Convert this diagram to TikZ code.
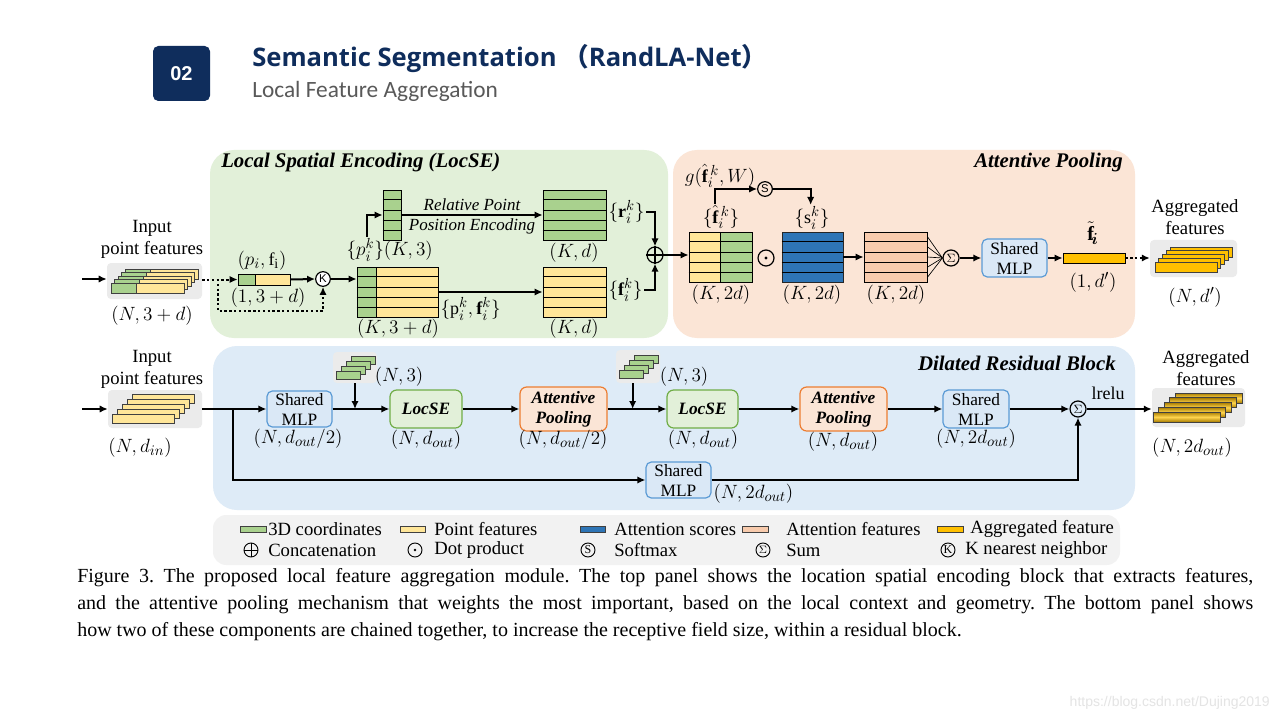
\documentclass[tikz,border=0pt]{standalone}
\usepackage{amsmath}
\usepackage{fontspec}
\setmainfont{Liberation Serif}
\newfontfamily\titlefont{Open Sans}
\newfontfamily\subfont{Carlito}
\newfontfamily\cjk{Noto Sans CJK SC}
\newfontfamily\wmfont{Liberation Sans}
\DeclareMathSizes{13.5}{13.5}{10.5}{8}
\DeclareMathSizes{15}{15}{11.5}{9}
\usetikzlibrary{arrows.meta,calc}
\definecolor{navy}{HTML}{0F2D5C}
\definecolor{subgray}{HTML}{595959}
\definecolor{greenbg}{HTML}{E2F0D9}
\definecolor{peachbg}{HTML}{FBE5D6}
\definecolor{bluebg}{HTML}{DEEBF7}
\definecolor{legbg}{HTML}{F2F2F2}
\definecolor{stackbg}{HTML}{EBEBEB}
\definecolor{cgreen}{HTML}{A9D18E}
\definecolor{cyellow}{HTML}{FFE699}
\definecolor{cblue}{HTML}{2E75B6}
\definecolor{cpeach}{HTML}{F8CBAD}
\definecolor{cgold}{HTML}{FFC000}
\definecolor{golddark}{HTML}{A87C00}
\definecolor{goldlight}{HTML}{FFD54F}
\definecolor{mlpB}{HTML}{5B9BD5}
\definecolor{mlpF}{HTML}{DAE8F6}
\definecolor{locB}{HTML}{70AD47}
\definecolor{locF}{HTML}{E2F0D9}
\definecolor{apB}{HTML}{ED7D31}
\definecolor{apF}{HTML}{FBE5D6}
\definecolor{wm}{HTML}{E4E4E4}
\newcommand\boxat[7]{\node[#2, inner sep=0pt, minimum width={(#5-#3)*0.75pt}, minimum height={(#6-#4)*0.75pt}] (#1) at ({(#3+#5)/2},{(#4+#6)/2}) {#7};}
\newcommand\mrows[2]{\foreach \k in {1,...,#2} {\draw[rowline] ($(#1.north west)!{\k/(#2+1)}!(#1.south west)$) -- ($(#1.north east)!{\k/(#2+1)}!(#1.south east)$);}}
\begin{document}
\begin{tikzpicture}[x=0.75pt,y=-0.75pt,
  arr/.style={line width=1.5pt,-{Latex[length=6pt,width=5.5pt]}},
  dotarr/.style={line width=1.5pt,dash pattern=on 1.8pt off 1.8pt,-{Latex[length=6pt,width=5.5pt]}},
  lab/.style={font=\fontsize{13.5}{15}\selectfont,inner sep=1pt},
  mat/.style={draw=black,line width=0.6pt},
  rowline/.style={line width=0.6pt},
  bar/.style={draw=black!75,line width=0.5pt},
  op/.style={circle,draw,line width=0.9pt,minimum size=11pt,inner sep=0pt},
  panel/.style={rounded corners=18pt,draw=none},
  mlp/.style={draw=mlpB,fill=mlpF,rounded corners=4pt,line width=0.9pt,align=center,font=\fontsize{13}{15}\selectfont},
  loc/.style={draw=locB,fill=locF,rounded corners=5pt,line width=0.9pt,font=\fontsize{13}{14}\selectfont\bfseries\itshape},
  ap/.style={draw=apB,fill=apF,rounded corners=5pt,line width=0.9pt,align=center,font=\fontsize{13}{15}\selectfont\bfseries\itshape},
  ptitle/.style={font=\fontsize{15.6}{17}\selectfont\bfseries\itshape,inner sep=0pt},
  two/.style={align=center,font=\fontsize{14}{16.5}\selectfont,inner sep=0pt},
  leg/.style={font=\fontsize{14}{15}\selectfont,anchor=west,inner sep=0pt},
  captxt/.style={font=\fontsize{15}{17}\selectfont,anchor=west,inner sep=0pt},
  sbg/.style={fill=stackbg,rounded corners=3pt,draw=none}]
\useasboundingbox (0,0) rectangle (1280,720);
\fill[white] (0,0) rectangle (1280,720);

% ---------- header ----------
\boxat{num}{fill=navy,rounded corners=4pt,text=white,font=\wmfont\bfseries\fontsize{15}{15}\selectfont}{153}{46}{210}{101}{02}
\node[anchor=west,inner sep=0pt,text=navy,font=\titlefont\bfseries\fontsize{19.2}{21}\selectfont] (title) at (252,59) {Semantic Segmentation {\cjk （}RandLA-Net{\cjk ）}};
\node[anchor=west,inner sep=0pt,text=subgray,font=\subfont\fontsize{17.5}{19}\selectfont] (subtitle) at (252,91) {Local Feature Aggregation};

% ---------- panels ----------
\boxat{pLoc}{panel,fill=greenbg}{210}{150}{668}{338}{}
\boxat{pAP}{panel,fill=peachbg}{673}{150}{1135}{338}{}
\boxat{pDR}{panel,fill=bluebg}{213}{346}{1135}{510}{}
\boxat{pLeg}{rounded corners=10pt,fill=legbg}{213}{515}{1120}{565}{}
\node[ptitle,anchor=west] (tLoc) at (221,162) {Local Spatial Encoding (LocSE)};
\node[ptitle,anchor=east] (tAP) at (1123,162) {Attentive Pooling};
\node[ptitle,anchor=east] (tDR) at (1116,363) {Dilated Residual Block};

% ---------- top: input ----------
\coordinate (inA) at (82,279);
\node[two] (tIn) at (152,239) {Input\\point features};
\boxat{inT}{sbg}{107}{263}{202}{299}{}
\foreach \i in {4,...,0} {
  \fill[cyellow] ({111+3.5*\i},{283-3.5*\i}) rectangle ({184+3.5*\i},{293-3.5*\i});
  \fill[cgreen] ({111+3.5*\i},{283-3.5*\i}) rectangle ({136+3.5*\i},{293-3.5*\i});
  \draw[bar] ({111+3.5*\i},{283-3.5*\i}) rectangle ({184+3.5*\i},{293-3.5*\i});
  \draw[bar] ({136+3.5*\i},{283-3.5*\i}) -- ({136+3.5*\i},{293-3.5*\i});
}
\node[lab] (lIn) at (152,316) {$(N,3+d)$};
\draw[arr] (inA) -- (inA -| inT.west);

\fill[cgreen] (238,274) rectangle (255,285);
\fill[cyellow] (255,274) rectangle (290,285);
\boxat{pf}{mat}{238}{274}{290}{285}{}
\draw[rowline] (255,274) -- (255,285);
\node[lab] (lpf) at (262,261) {$(p_i,\mathrm{f}_\mathrm{i})$};
\node[lab] (lpf2) at (268,298) {$(1,3+d)$};
\node[op,fill=white] (K) at (323,279) {\wmfont\fontsize{8.5}{8.5}\selectfont K};
\coordinate (dsplit) at (218,279);
\draw[dotarr] (inT.east |- pf.west) -- (pf.west);
\draw[dotarr] (dsplit) -- (218,311) -| (K.south);
\draw[arr] (pf.east) -- (K.west);

% big matrix
\fill[cgreen] (357,267) rectangle (376,317);
\fill[cyellow] (376,267) rectangle (438,317);
\boxat{M1}{mat}{357}{267}{438}{317}{}
\mrows{M1}{4}
\draw[rowline] (376,267) -- (376,317);
\draw[arr] (K.east) -- (K.east -| M1.west);
\node[lab] (lM1) at (398,329) {$(K,3+d)$};
\node[lab,anchor=west] (lM1b) at (439,309) {$\{\mathrm{p}_i^k,\mathbf{f}_i^k\}$};

% column
\boxat{C1}{mat,fill=cgreen}{383}{190}{401}{240}{}
\mrows{C1}{4}
\node[lab,anchor=west] (lC1) at (345,250) {$\{p_i^k\}(K,3)$};
\draw[arr] ([xshift=16.5pt]lC1.north west) |- (C1.west);

% R and F
\boxat{R}{mat,fill=cgreen}{543}{190}{606}{240}{}
\mrows{R}{4}
\boxat{F}{mat,fill=cyellow}{543}{267}{606}{317}{}
\mrows{F}{4}
\draw[arr] (C1.east) -- (C1.east -| R.west);
\node[align=center,inner sep=0pt,font=\fontsize{12.75}{15}\selectfont\itshape] (lRel) at (472,216) {Relative Point\\Position Encoding};
\draw[arr] (F.west -| M1.east) -- (F.west);
\node[lab] (lR) at (574,253) {$(K,d)$};
\node[lab] (lF) at (574,329) {$(K,d)$};
\node[lab,anchor=west] (rlab) at (607,212) {$\{\mathbf{r}_i^k\}$};
\node[lab,anchor=west] (flab) at (607,290) {$\{\mathbf{f}_i^k\}$};
\node[op,minimum size=12pt] (cat) at (655,255) {};
\draw[line width=0.9pt] (cat.north) -- (cat.south) (cat.west) -- (cat.east);
\draw[arr] (rlab.east) -| (cat.north);
\draw[arr] (flab.east) -| (cat.south);

% ---------- attentive pooling ----------
\fill[cyellow] (689,232) rectangle (720,282);
\fill[cgreen] (720,232) rectangle (752,282);
\boxat{Q1}{mat}{689}{232}{752}{282}{}
\mrows{Q1}{4}
\draw[rowline] (720,232) -- (720,282);
\draw[arr] (cat.east) -- (cat.east -| Q1.west);
\node[lab] (fh) at (721,217) {$\{\hat{\mathbf{f}}_i^{\,k}\}$};
\node[lab] (lg) at (720,176) {$g(\hat{\mathbf{f}}_i^{\,k},W)$};
\node[op] (S) at (765,189) {\wmfont\fontsize{8.5}{8.5}\selectfont S};
\node[lab] (sl) at (812,218) {$\{\mathrm{s}_i^k\}$};
\draw[arr] ([xshift=-4.5pt]fh.north) |- (S.west);
\draw[arr] (S.east) -| ([xshift=-1pt]sl.north);
\node[op,minimum size=12pt] (dot) at (766,258) {};
\fill (dot.center) circle[radius=1.6];
\boxat{B}{mat,draw=black!85,fill=cblue}{782}{232}{843}{282}{}
\mrows{B}{4}
\boxat{P}{mat,fill=cpeach}{864}{232}{927}{282}{}
\mrows{P}{4}
\draw[arr] (B.east) -- (P.west);
\node[op,minimum size=12pt] (sum) at (951,258) {\fontsize{9}{9}\selectfont$\Sigma$};
\foreach \k in {0.5,1.5,2.5,3.5,4.5} {\draw[line width=0.5pt] ($(P.north east)!{\k/5}!(P.south east)$) -- (sum.west);}
\node[lab] (lQ) at (721,295) {$(K,2d)$};
\node[lab] (lB) at (812,295) {$(K,2d)$};
\node[lab] (lP) at (896,295) {$(K,2d)$};
\boxat{mlp1}{mlp}{982}{239}{1047}{277}{Shared\\MLP}
\draw[arr] (sum.east) -- (mlp1.west);
\boxat{gb}{mat,fill=cgold}{1063}{253}{1125}{263}{}
\draw[arr] (mlp1.east) -- (gb.west);
\node[lab,font=\fontsize{15}{16}\selectfont] (lft) at (1093,233) {$\tilde{\mathbf{f}}_{\!\boldsymbol{i}}$};
\node[lab] (lgb) at (1093,282) {$(1,d')$};
\boxat{aggT}{sbg}{1150}{240}{1237}{277}{}
\foreach \i in {4,...,0} {
  \filldraw[fill=cgold,bar] ({1155+3.75*\i},{262-3.75*\i}) rectangle ({1217+3.75*\i},{272-3.75*\i});
}
\draw[dotarr] (gb.east) -- (gb.east -| aggT.west);
\node[two] (tAggT) at (1195,217) {Aggregated\\features};
\node[lab] (lAggT) at (1195,297) {$(N,d')$};

% ---------- bottom: dilated residual block ----------
\coordinate (inB0) at (82,409);
\node[two] (tInB) at (152,369) {Input\\point features};
\boxat{inB}{sbg}{108}{390}{202}{428}{}
\foreach \i in {4,...,0} {
  \filldraw[fill=cyellow,bar] ({112+5*\i},{414-5*\i}) rectangle ({174+5*\i},{423-5*\i});
}
\node[lab] (lInB) at (140,448) {$(N,d_{in})$};
\draw[arr] (inB0) -- (inB0 -| inB.west);

\boxat{mlpA}{mlp}{267}{391}{332}{427}{Shared\\MLP}
\node[lab] (lmlpA) at (298,439) {$(N,d_{out}/2)$};
\draw[arr] (inB.east) -- (mlpA.west);
\coordinate (split) at (233,409);

\boxat{gs1}{sbg}{333}{352}{377}{383}{}
\foreach \i in {3,...,0} {
  \filldraw[fill=cgreen,bar] ({336+5*\i},{371-5*\i}) rectangle ({360+5*\i},{379-5*\i});
}
\node[lab] (lgs1) at (399,377) {$(N,3)$};
\boxat{loc1}{loc}{390}{390}{462}{428}{LocSE}
\node[lab] (lloc1) at (426,440) {$(N,d_{out})$};
\draw[arr] (mlpA.east) -- (loc1.west);
\draw[arr] (gs1.south) -- (gs1.south |- mlpA.east);

\boxat{ap1}{ap}{520}{387}{607}{431}{Attentive\\Pooling}
\node[lab] (lap1) at (563,440) {$(N,d_{out}/2)$};
\draw[arr] (loc1.east) -- (ap1.west);

\boxat{gs2}{sbg}{616}{350}{660}{383}{}
\foreach \i in {3,...,0} {
  \filldraw[fill=cgreen,bar] ({619+5*\i},{370-5*\i}) rectangle ({643+5*\i},{378-5*\i});
}
\node[lab] (lgs2) at (684,377) {$(N,3)$};
\boxat{loc2}{loc}{667}{390}{738}{428}{LocSE}
\node[lab] (lloc2) at (703,440) {$(N,d_{out})$};
\draw[arr] (ap1.east) -- (loc2.west);
\draw[arr] ([xshift=-4pt]gs2.south) -- ([xshift=-4pt]gs2.south |- ap1.east);

\boxat{ap2}{ap}{800}{387}{887}{431}{Attentive\\Pooling}
\node[lab] (lap2) at (843,442) {$(N,d_{out})$};
\draw[arr] (loc2.east) -- (ap2.west);

\boxat{mlpC}{mlp}{943}{390}{1009}{428}{Shared\\MLP}
\node[lab] (lmlpC) at (976,439) {$(N,2d_{out})$};
\draw[arr] (ap2.east) -- (mlpC.west);

\node[op,minimum size=12pt] (sum2) at (1078,409) {\fontsize{9}{9}\selectfont$\Sigma$};
\draw[arr] (mlpC.east) -- (sum2.west);
\node[lab] (lrelu) at (1108,393) {lrelu};

\boxat{mlpB}{mlp}{646}{462}{711}{498}{Shared\\MLP}
\node[lab,anchor=west] (lmlpB) at (712,494) {$(N,2d_{out})$};
\draw[arr] (split) |- (mlpB.west);
\draw[arr] (mlpB.east) -| (sum2.south);

\boxat{aggB}{sbg}{1152}{388}{1245}{427}{}
\foreach \i in {4,...,0} {
  \shade[top color=golddark,bottom color=golddark,middle color=goldlight] ({1153+5.5*\i},{412-4.75*\i}) rectangle ({1220+5.5*\i},{422-4.75*\i});
  \draw[bar] ({1153+5.5*\i},{412-4.75*\i}) rectangle ({1220+5.5*\i},{422-4.75*\i});
}
\draw[arr] (sum2.east) -- (sum2.east -| aggB.west);
\node[two] (tAggB) at (1206,368) {Aggregated\\features};
\node[lab] (lAggB) at (1192,448) {$(N,2d_{out})$};

% ---------- legend ----------
\filldraw[fill=cgreen,bar] (240,526) rectangle (266,532);
\node[leg] (g1) at (268,529) {3D coordinates};
\filldraw[fill=cyellow,bar] (400,526) rectangle (425,532);
\node[leg] (g2) at (434,529) {Point features};
\filldraw[fill=cblue,bar] (580,526) rectangle (605,532);
\node[leg] (g3) at (614,529) {Attention scores};
\filldraw[fill=cpeach,bar] (742,526) rectangle (768,532);
\node[leg] (g4) at (786,529) {Attention features};
\filldraw[fill=cgold,bar] (937,526) rectangle (963,532);
\node[leg] (g5) at (970,529) {Aggregated feature};

\node[op,minimum size=10.5pt,line width=0.7pt] (oCat) at (251,550) {};
\draw[line width=0.7pt] (oCat.north) -- (oCat.south) (oCat.west) -- (oCat.east);
\node[leg] (h1) at (268,550) {Concatenation};
\node[op,minimum size=10.5pt,line width=0.7pt] (oDot) at (415,550) {};
\fill (oDot.center) circle[radius=1.4];
\node[leg] (h2) at (434,550) {Dot product};
\node[op,minimum size=10.5pt,line width=0.7pt] (oS) at (588,550) {\fontsize{9}{9}\selectfont S};
\node[leg] (h3) at (614,550) {Softmax};
\node[op,minimum size=10.5pt,line width=0.7pt] (oSum) at (763,550) {\fontsize{8.5}{8.5}\selectfont$\Sigma$};
\node[leg] (h4) at (786,550) {Sum};
\node[op,minimum size=10.5pt,line width=0.7pt] (oK) at (948,550) {\fontsize{9}{9}\selectfont K};
\node[leg] (h5) at (965,550) {K nearest neighbor};

% ---------- caption ----------
\node[captxt] (cap1) at (77,578) {\frenchspacing\makebox[882pt][s]{Figure 3. The proposed local feature aggregation module. The top panel shows the location spatial encoding block that extracts features,}};
\node[captxt] (cap2) at (77,605) {\frenchspacing\makebox[882pt][s]{and the attentive pooling mechanism that weights the most important, based on the local context and geometry. The bottom panel shows}};
\node[captxt] (cap3) at (77,632) {\frenchspacing how two of these components are chained together, to increase the receptive field size, within a residual block.};

\node[anchor=east,inner sep=0pt,text=wm,font=\wmfont\fontsize{10.5}{11}\selectfont] (wmark) at (1270,703) {https://blog.csdn.net/Dujing2019};
\end{tikzpicture}
\end{document}
